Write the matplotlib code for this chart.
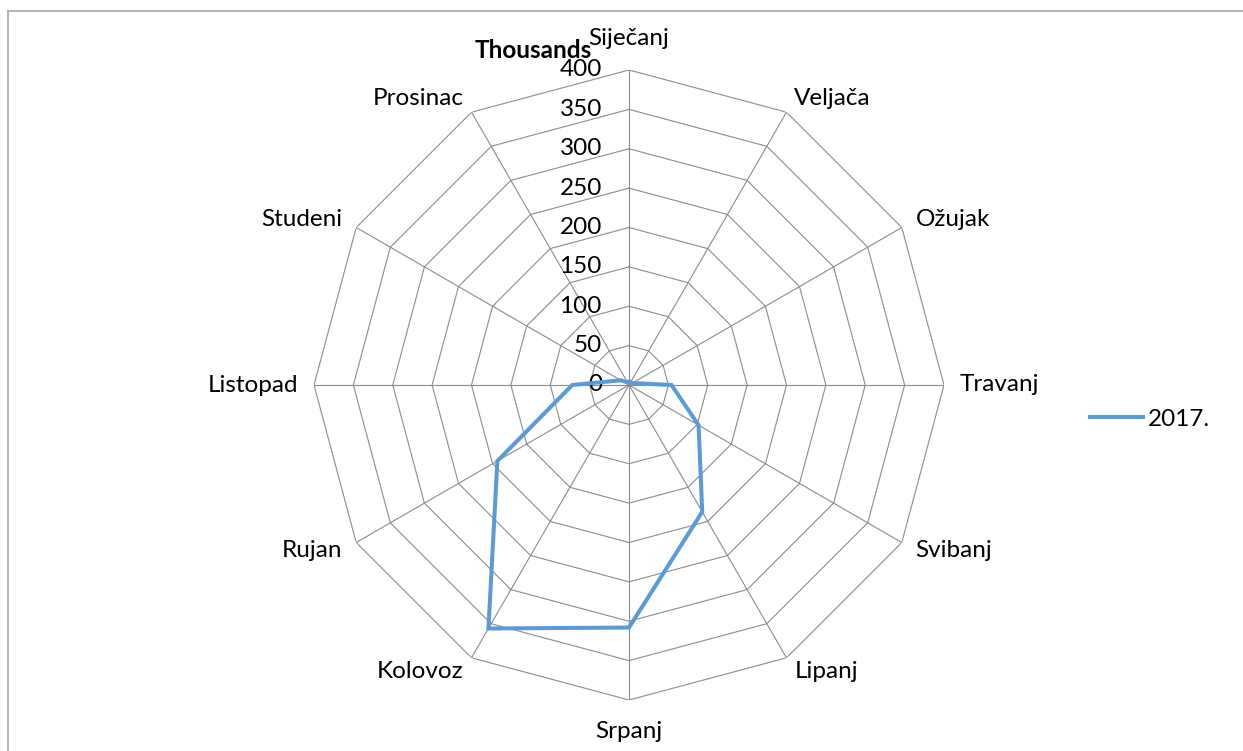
import numpy as np
import matplotlib.pyplot as plt
from matplotlib.lines import Line2D

# ---------------------- DATA -------------------------------
months = ["Siječanj", "Veljača", "Ožujak", "Travanj", "Svibanj", "Lipanj",
          "Srpanj", "Kolovoz", "Rujan", "Listopad", "Studeni", "Prosinac"]
values_2017 = [4, 4, 5, 54, 102, 186, 308, 357, 193, 72, 12, 4]   # thousands
series_name = "2017."
ring_ticks = [0, 50, 100, 150, 200, 250, 300, 350, 400]

FONT = "Lato"
FS = 17.5
GRID_C = "#8c8c8c"
LINE_C = "#5B9BD5"
W, H = 1243, 751

# ---------------------- FIGURE -----------------------------
fig = plt.figure(figsize=(W / 100, H / 100), dpi=100)

cx, cy, rad = 629, 385, 315          # pixel centre / radius of the web
ax = fig.add_axes([(cx - rad) / W, (H - cy - rad) / H, 2 * rad / W, 2 * rad / H],
                  projection="polar")
ax.set_theta_zero_location("N")
ax.set_theta_direction(-1)
ax.set_ylim(0, 400)
ax.grid(False)
ax.spines["polar"].set_visible(False)
ax.set_xticks([])
ax.set_yticks([])
ax.patch.set_alpha(0)

n = len(months)
theta = np.arange(n) * 2 * np.pi / n
theta_closed = np.append(theta, theta[0])

# polygon rings
for r in ring_ticks[1:]:
    ax.plot(theta_closed, [r] * (n + 1), color=GRID_C, lw=0.8, zorder=1)
# spokes
for t in theta:
    ax.plot([t, t], [0, 400], color=GRID_C, lw=0.8, zorder=1)

# radial tick labels along the top spoke
for r in ring_ticks:
    ax.annotate(str(r), xy=(0, r), xytext=(-19.5, 0), textcoords="offset points",
                ha="right", va="center", fontsize=FS, family=FONT)

# month labels
for t, name in zip(theta, months):
    s, c = np.sin(t), np.cos(t)
    if abs(c) > 0.95:
        ha, va, rr = "center", "center", 440
    else:
        ha = "left" if s > 0 else "right"
        va, rr = "center", 420
    ax.text(t, rr, name, ha=ha, va=va, fontsize=FS, family=FONT, clip_on=False)

# data series
vals_closed = values_2017 + values_2017[:1]
ax.plot(theta_closed, vals_closed, color=LINE_C, lw=2.9, zorder=3,
        solid_joinstyle="miter")

# unit label
fig.text(592 / W, 1 - 58 / H, "Thousands", ha="right", va="baseline",
         fontsize=FS, fontweight="bold", family=FONT)

# legend
handle = Line2D([], [], color=LINE_C, lw=2.9)
fig.legend([handle], [series_name], loc="center left",
           bbox_to_anchor=(1090 / W, 1 - 419 / H), frameon=False,
           prop={"family": FONT, "size": FS},
           handlelength=2.2, handletextpad=0.2, borderpad=0, borderaxespad=0)

# chart-area border (top and left visible)
fig.add_artist(Line2D([8 / W, 8 / W], [0, 1 - 11 / H], color="#a6a6a6", lw=1.2,
                      transform=fig.transFigure))
fig.add_artist(Line2D([8 / W, 1], [1 - 11 / H, 1 - 11 / H], color="#a6a6a6", lw=1.2,
                      transform=fig.transFigure))

fig.savefig("out.png", dpi=100)
